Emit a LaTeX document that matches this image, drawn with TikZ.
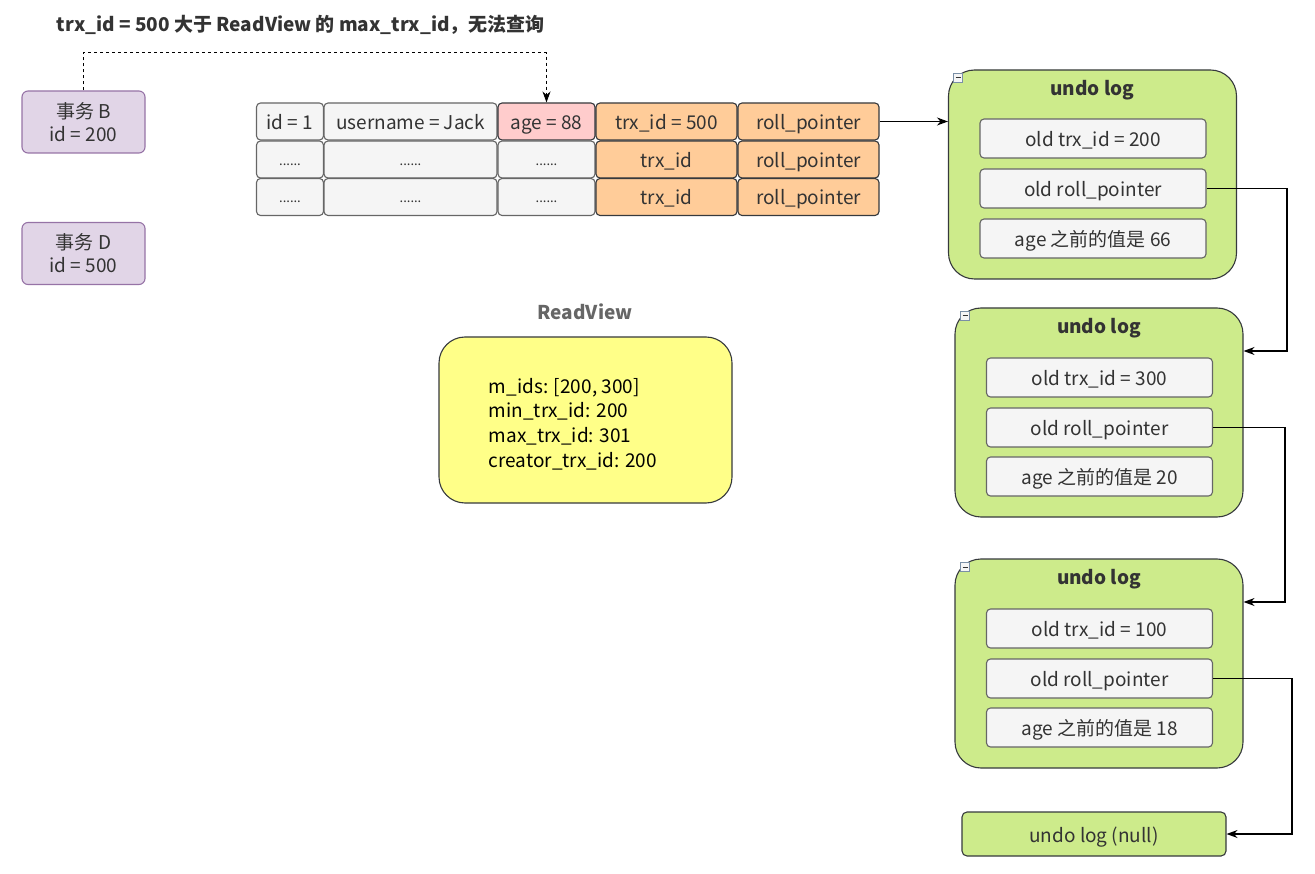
\documentclass[tikz,border=0pt]{standalone}
\usepackage{fontspec}
\setmainfont{Noto Sans CJK SC}
\usetikzlibrary{arrows.meta,positioning}

\definecolor{txfill}{HTML}{E1D5E7}
\definecolor{txline}{HTML}{9673A6}
\definecolor{cellfill}{HTML}{F5F5F5}
\definecolor{cellline}{HTML}{666666}
\definecolor{agefill}{HTML}{FFCCCC}
\definecolor{trxfill}{HTML}{FFCC99}
\definecolor{darkline}{HTML}{36393D}
\definecolor{undofill}{HTML}{CDEB8B}
\definecolor{viewfill}{HTML}{FFFF88}
\definecolor{txt}{HTML}{333333}
\definecolor{foldline}{HTML}{7A8FA6}

\begin{document}
\begin{tikzpicture}[x=1pt,y=-1pt,line width=1.1pt,
    every node/.style={font=\fontsize{19}{23}\selectfont,text=txt},
    txn/.style = {draw=txline,fill=txfill,rounded corners=6pt,minimum width=123pt,minimum height=62pt,align=center,inner sep=0pt},
    cell/.style = {draw=cellline,fill=cellfill,rounded corners=4pt,minimum height=37pt,inner sep=0pt,text height=16pt,text depth=0pt},
    agecell/.style = {cell,draw=darkline,fill=agefill},
    trxcell/.style = {cell,draw=darkline,fill=trxfill},
    dots/.style = {cell,font=\fontsize{13}{14}\selectfont,text height=12pt},
    undo/.style = {draw=darkline,fill=undofill,rounded corners=26pt,minimum width=288pt,minimum height=209pt},
    field/.style = {draw=cellline,fill=cellfill,rounded corners=4pt,minimum width=226pt,minimum height=39pt,inner sep=0pt,text height=16pt,text depth=0pt},
    head/.style = {font=\bfseries\fontsize{19}{23}\selectfont},
    fold/.style = {draw=foldline,fill=cellfill,line width=0.6pt,minimum size=9pt,inner sep=0pt,font=\fontsize{6}{6}\selectfont},
    link/.style = {-{Stealth[length=11pt,width=8pt]}}]
      \useasboundingbox (0,0) rectangle (1315,874);

      % title
      \node[head,anchor=west] (title) at (53,25) {trx\_id = 500 大于 ReadView 的 max\_trx\_id，无法查询};

      % transactions
      \node[txn] (txB) at (83.5,122) {事务 B\\id = 200};
      \node[txn] (txD) at (83.5,253.5) {事务 D\\id = 500};

      % row table
      \node[cell,minimum width=67pt] (id1) at (290,121.5) {id = 1};
      \node[cell,minimum width=173pt] (name1) at (410.5,121.5) {username = Jack};
      \node[agecell,minimum width=97pt] (age1) at (546.5,121.5) {age = 88};
      \node[trxcell,minimum width=141pt] (trx1) at (666.5,121.5) {trx\_id = 500};
      \node[trxcell,minimum width=141pt] (roll1) at (808.5,121.5) {roll\_pointer};

      \node[dots,minimum width=67pt] (id2) at (290,159.5) {......};
      \node[dots,minimum width=173pt] (name2) at (410.5,159.5) {......};
      \node[dots,minimum width=97pt] (age2) at (546.5,159.5) {......};
      \node[trxcell,minimum width=141pt] (trx2) at (666.5,159.5) {trx\_id};
      \node[trxcell,minimum width=141pt] (roll2) at (808.5,159.5) {roll\_pointer};

      \node[dots,minimum width=67pt] (id3) at (290,197) {......};
      \node[dots,minimum width=173pt] (name3) at (410.5,197) {......};
      \node[dots,minimum width=97pt] (age3) at (546.5,197) {......};
      \node[trxcell,minimum width=141pt] (trx3) at (666.5,197) {trx\_id};
      \node[trxcell,minimum width=141pt] (roll3) at (808.5,197) {roll\_pointer};

      % read view
      \node[head,text=cellline] (viewtitle) at (585,312) {ReadView};
      \node[draw=darkline,fill=viewfill,rounded corners=26pt,minimum width=293pt,minimum height=166pt] (view) at (585.5,420) {};
      \node[anchor=west,align=left,font=\fontsize{19}{24.7}\selectfont,text=black] (viewtext) at (485,424)
        {m\_ids: [200, 300]\\min\_trx\_id: 200\\max\_trx\_id: 301\\creator\_trx\_id: 200};

      % undo log chain
      \node[undo] (undo1) at (1092.5,174.5) {};
      \node[head] (undotitle1) at (1092.5,90) {undo log};
      \node[field] (old1) at (1093,138.5) {old trx\_id = 200};
      \node[field] (ptr1) at (1093,188.5) {old roll\_pointer};
      \node[field] (age4) at (1093,238.5) {age 之前的值是 66};
      \node[fold] (fold1) at (958,78) {\rule{5pt}{1pt}};

      \node[undo] (undo2) at (1099,412.5) {};
      \node[head] (undotitle2) at (1099,328) {undo log};
      \node[field] (old2) at (1099.5,377.5) {old trx\_id = 300};
      \node[field] (ptr2) at (1099.5,427.5) {old roll\_pointer};
      \node[field] (age5) at (1099.5,476.5) {age 之前的值是 20};
      \node[fold] (fold2) at (965,316) {\rule{5pt}{1pt}};

      \node[undo] (undo3) at (1099,663.5) {};
      \node[head] (undotitle3) at (1099,579) {undo log};
      \node[field] (old3) at (1099.5,628.5) {old trx\_id = 100};
      \node[field] (ptr3) at (1099.5,678.5) {old roll\_pointer};
      \node[field] (age6) at (1099.5,727.5) {age 之前的值是 18};
      \node[fold] (fold3) at (965,567) {\rule{5pt}{1pt}};

      \node[draw=darkline,fill=undofill,rounded corners=5pt,minimum width=264pt,minimum height=44pt,text height=16pt,text depth=0pt] (undonull) at (1094,834) {undo log (null)};

      % connectors
      \draw[link,dashed,line width=1pt] (txB.north) -- (txB.north |- 0,53) -| (age1.north);
      \draw[link] (roll1.east) -- (undo1.west |- roll1.east);
      \draw[link] (ptr1.east) -- (1287,188.5) |- (undo2.east |- 0,351);
      \draw[link] (ptr2.east) -- (1285,427.5) |- (undo3.east |- 0,602);
      \draw[link] (ptr3.east) -- (1292,678.5) |- (undonull.east);
\end{tikzpicture}
\end{document}
